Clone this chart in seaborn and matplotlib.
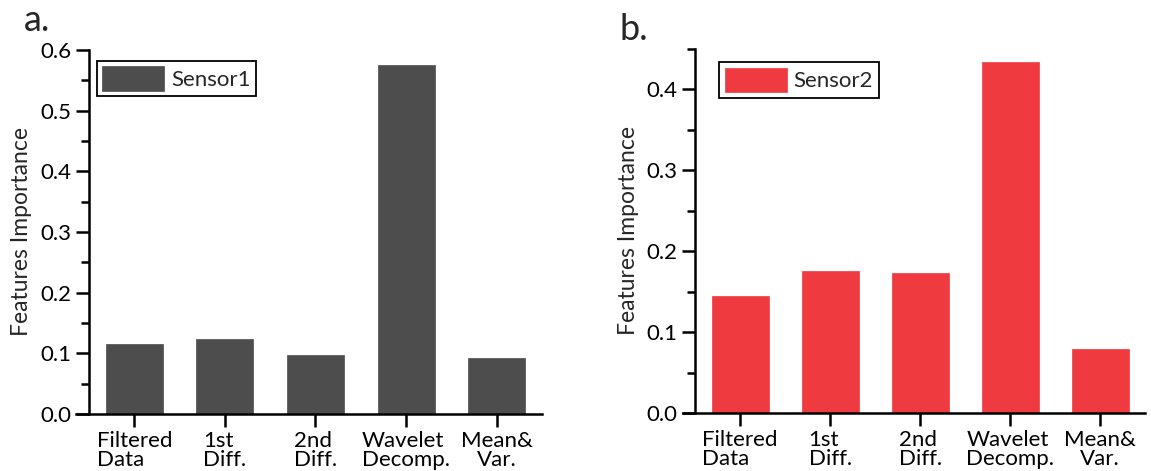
import numpy as np
import pandas as pd
import seaborn as sns
import matplotlib.pyplot as plt
from matplotlib.ticker import MultipleLocator

categorias = ["Filtered\nData", "1st\nDiff.", "2nd\nDiff.", "Wavelet\nDecomp.", "Mean&\nVar."]
sensor1 = [0.116, 0.123, 0.098, 0.575, 0.092]
sensor2 = [0.145, 0.175, 0.173, 0.433, 0.079]

cor1 = "#4d4d4d"
cor2 = "#ef3b40"

sns.set_theme(style="white")
plt.rcParams['font.family'] = ['Lato', 'DejaVu Sans']

size_tick, size_label, size_letter = 16, 16.5, 26

fig = plt.figure(figsize=(11.51, 4.71), dpi=100)
ax1 = fig.add_axes([0.0773, 0.121, 0.3936, 0.773])
ax2 = fig.add_axes([0.604, 0.123, 0.391, 0.774])


def desenhaPainel(ax, valores, cor, nome, ymax, leg_pos):
    df = pd.DataFrame({"cat": categorias, "val": valores})
    sns.barplot(data=df, x="cat", y="val", color=cor, width=0.63, ax=ax,
                label=nome, saturation=1, edgecolor=cor, linewidth=0.5)
    ax.set_xlim(-0.5, 4.5)
    ax.set_ylim(0, ymax)
    ax.yaxis.set_major_locator(MultipleLocator(0.1))
    ax.yaxis.set_minor_locator(MultipleLocator(0.05))
    ax.set_yticks(np.arange(0, ymax + 1e-9, 0.1))
    ax.yaxis.set_major_formatter(plt.FormatStrFormatter('%.1f'))
    for s in ['top', 'right']:
        ax.spines[s].set_visible(False)
    for s in ['left', 'bottom']:
        ax.spines[s].set_linewidth(1.8)
        ax.spines[s].set_color('black')
    ax.spines['bottom'].set_bounds(-0.64, 4.5)
    ax.tick_params(axis='y', which='major', direction='out', length=9.5, width=1.8,
                   labelsize=size_tick, left=True, pad=3, colors='black')
    ax.tick_params(axis='y', which='minor', direction='out', length=6, width=1.8, left=True, color='black')
    ax.tick_params(axis='x', which='major', direction='out', length=9, width=1.8,
                   labelsize=size_tick, bottom=True, pad=3, colors='black')
    ax.set_xlabel("")
    ax.set_ylabel("Features Importance", fontsize=size_label)
    ax.yaxis.set_label_coords(-0.125, 0.5)
    ax.set_xticks(range(len(categorias)))
    ax.set_xticklabels(categorias, linespacing=0.95)
    for i, t in enumerate(ax.get_xticklabels()):
        t.set_multialignment('center' if i == 4 else 'left')
    leg = ax.legend(loc='upper left', bbox_to_anchor=leg_pos, borderaxespad=0,
                    fontsize=size_tick, handlelength=2.8, handleheight=1.3,
                    fancybox=False, edgecolor='black', framealpha=1,
                    borderpad=0.25, handletextpad=0.3)
    leg.get_frame().set_linewidth(1.3)


desenhaPainel(ax1, sensor1, cor1, "Sensor1", 0.6, (0.017, 0.97))
desenhaPainel(ax2, sensor2, cor2, "Sensor2", 0.45, (0.053, 0.962))

fig.text(0.021, 0.935, "a.", fontsize=size_letter)
fig.text(0.538, 0.915, "b.", fontsize=size_letter)

plt.savefig("out.png", dpi=100)
